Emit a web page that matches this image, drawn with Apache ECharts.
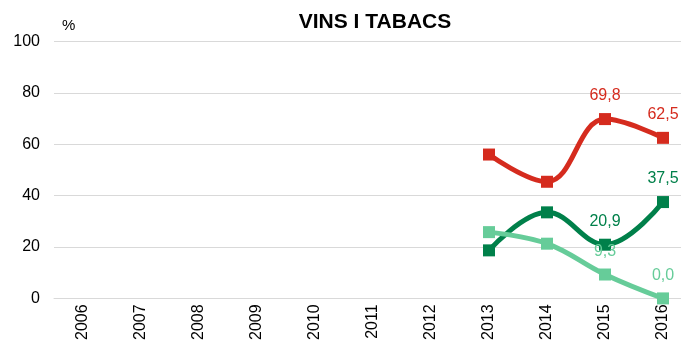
<!DOCTYPE html>
<html>
<head>
<meta charset="utf-8">
<script src="https://cdn.jsdelivr.net/npm/echarts@6/dist/echarts.min.js"></script>
<style>
  html, body { margin: 0; padding: 0; background: #fff; overflow: hidden; }
  #wrap { width: 681px; height: 343px; overflow: hidden; }
  #chart { width: 692px; height: 343px; }
</style>
</head>
<body>
<div id="wrap"><div id="chart"></div></div>
<script>
// Years on the category axis
const years = ['2006', '2007', '2008', '2009', '2010', '2011', '2012', '2013', '2014', '2015', '2016'];
// Percentages per series (null where no data)
const seriesRed = [null, null, null, null, null, null, null, 56.0, 45.4, 69.8, 62.5];
const seriesDarkGreen = [null, null, null, null, null, null, null, 18.7, 33.5, 20.9, 37.5];
const seriesLightGreen = [null, null, null, null, null, null, null, 25.8, 21.3, 9.3, 0.0];
// Years whose values are written on the chart
const labelledYears = ['2015', '2016'];

const font = 'Liberation Sans, Arial, sans-serif';

function lineSeries(name, data, color) {
  return {
    name: name,
    type: 'line',
    data: data,
    smooth: 0.4,
    symbol: 'rect',
    symbolSize: 12,
    showAllSymbol: true,
    lineStyle: { color: color, width: 5 },
    itemStyle: { color: color },
    label: {
      show: true,
      position: 'top',
      distance: 9,
      color: color,
      fontFamily: font,
      fontSize: 16,
      formatter: function (p) {
        if (labelledYears.indexOf(p.name) < 0 || p.value == null) return '';
        return p.value.toFixed(1).replace('.', ',');
      }
    },
    z: 3
  };
}

const chart = echarts.init(document.getElementById('chart'));
chart.setOption({
  animation: false,
  backgroundColor: '#ffffff',
  title: {
    text: 'VINS I TABACS',
    left: 370,
    top: 7,
    textAlign: 'center',
    textStyle: { fontFamily: font, fontSize: 21, fontWeight: 'bold', color: '#000' }
  },
  graphic: [{
    type: 'text',
    left: 62,
    top: 18,
    style: { text: '%', font: '15px ' + font, fill: '#000' }
  }],
  grid: { left: 54, right: 0, top: 41.5, bottom: 42.5 },
  xAxis: {
    type: 'category',
    data: years,
    boundaryGap: true,
    axisLine: { show: true, lineStyle: { color: '#d9d9d9', width: 1 } },
    axisTick: { show: false },
    axisLabel: {
      rotate: 90,
      margin: 6,
      color: '#000',
      fontFamily: font,
      fontSize: 16
    }
  },
  yAxis: {
    type: 'value',
    min: 0,
    max: 100,
    interval: 20,
    axisLine: { show: false },
    axisTick: { show: false },
    splitLine: { lineStyle: { color: '#d9d9d9', width: 1 } },
    axisLabel: { color: '#000', fontFamily: font, fontSize: 16, margin: 14 }
  },
  series: [
    lineSeries('Vermell', seriesRed, '#d52b1e'),
    lineSeries('Verd fosc', seriesDarkGreen, '#00804a'),
    lineSeries('Verd clar', seriesLightGreen, '#66cc99')
  ]
});
</script>
</body>
</html>
